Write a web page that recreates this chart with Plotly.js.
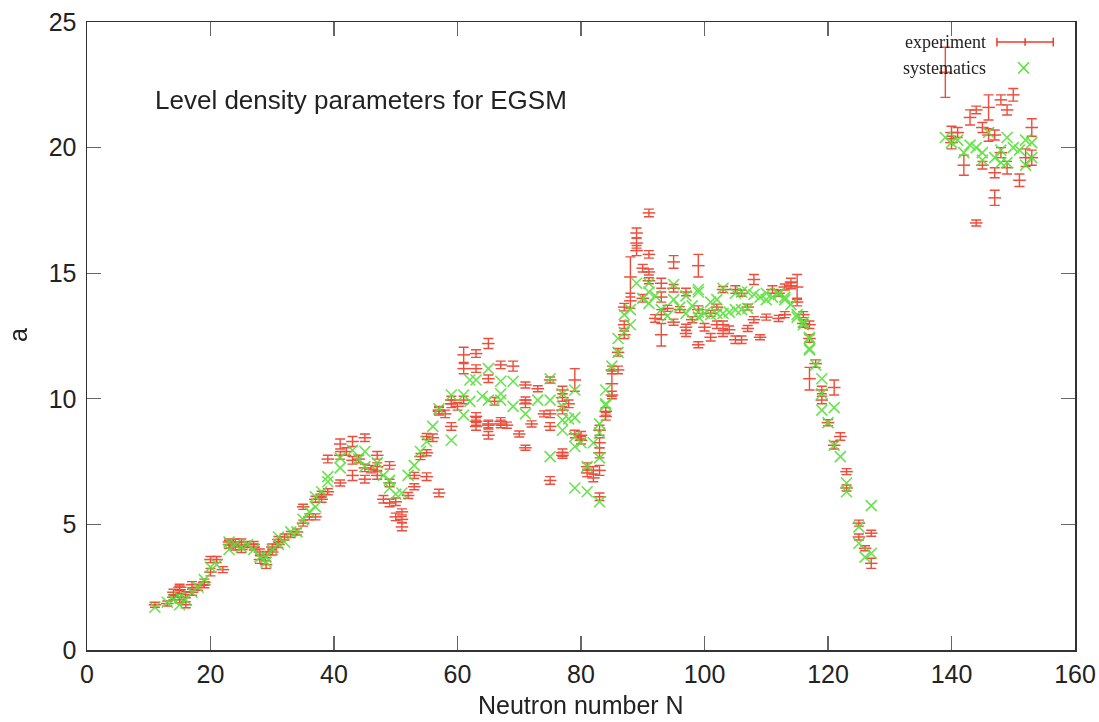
<!DOCTYPE html>
<html>
<head>
<meta charset="utf-8">
<script src="https://cdn.plot.ly/plotly-3.0.1.min.js"></script>
<style>html,body{margin:0;padding:0;background:#fff;}#chart{width:1099px;height:722px;}</style>
</head>
<body>
<div id="chart"></div>
<script>
// Experiment: neutron numbers, values of a (grouped per N), and error bars
const expN = [11,13,14,15,16,17,18,19,20,21,22,23,24,25,26,27,28,29,30,31,32,33,34,35,36,37,38,39,
  41,42,43,44,45,46,47,48,49,50,51,52,53,54,55,56,57,58,59,60,61,63,65,66,67,68,69,70,71,72,73,74,75,
  77,78,79,80,81,82,83,84,85,86,87,88,89,90,91,92,93,94,95,96,97,98,99,100,101,102,103,104,105,106,107,
  108,109,110,111,112,113,114,115,116,117,118,119,120,121,122,123,125,126,127,
  139,140,141,142,143,144,145,146,147,148,149,150,151,152,153];
const expA = [[1.8],[1.85],[2.1,2.3],[2.0,2.4,2.5],[1.8,2.2],[2.3,2.6],[2.5],[2.6,2.7],[3.1,3.6],[3.6],[3.2],
  [4.2,4.3],[4.1,4.3],[4.0,4.3],[4.2],[4.1,4.2],[3.6,3.9],[3.4,3.8],[3.9,4.1],[4.2,4.4],[4.5],[4.6],[4.7],
  [5.05,5.7],[5.3],[5.3,6.0],[6.0,6.2],[6.3,7.6],
  [6.65,7.75,8.2],[7.9],[6.95,7.55,8.3],[7.6],[6.8,7.25,8.45],[7.2],[6.95,7.3,7.75],[6.0],[5.85,6.65,7.35],
  [5.3,5.9],[4.9,5.2,5.5],[6.15],[6.5,6.95],[7.7],[6.9,7.85,8.5],[8.45],[6.25,9.5,9.55],[9.4],[8.9,9.8,9.95],
  [9.7],[9.95,11.2,11.75],[8.9,9.1,9.3,11.2,11.8],[8.55,8.95,9.0,10.8,12.2],[9.9],[9.0,9.1,11.35],[8.95],
  [11.3],[8.6],[8.05,9.8,9.95,10.55],[9.0],[10.4],[9.4],[6.75,8.9,9.4,10.75],
  [7.75,7.85,9.55,10.05,10.35],[9.8],[8.6,10.75],[8.35,8.55],[7.05,7.3],[6.85,7.15],[6.1,7.15,7.85,8.25,8.75],
  [9.3,9.5],[10.15,10.6,11.15],[11.15,11.85],[12.55,12.95,13.65],[13.9,14.85],[15.9,16.2,16.6],[14.0,15.2],
  [14.7,15.05,15.75,17.4],[13.2],[12.55,13.35,14.05,14.6],[13.6],[13.05,14.4,15.45],[13.55],[12.6,12.85,14.25],
  [13.15],[12.15,13.55,15.3],[12.85],[12.45,13.4],[12.95,13.65],[12.6,12.95,14.35],[12.75],[12.35,14.35],
  [12.35,14.2],[12.8,13.65],
  [13.15,14.75],[12.45],[13.25],[14.35],[13.2,14.2],[13.35,14.45],[14.5,14.65],[13.85,14.45],[13.0,13.35],
  [10.8,12.4,12.95],[11.4],[9.95,10.35],[9.05],[8.15,10.45],[8.5],[6.45,7.1],[4.5,5.05],[4.05],[3.45,4.65],
  [23.0],[20.2,20.6],[20.6],[19.3],[21.2],[17.0,21.5],[19.3,20.8],[20.5,21.6],[18.0,19.0,20.5],[19.8,21.9],
  [19.2,21.5],[22.1],[18.7],[19.6],[19.6,20.8]];
const expErr = [[.1],[.1],[.1,.12],[.12,.15,.12],[.12,.12],[.12,.12],[.12],[.12,.12],[.15,.12],[.12],[.12],
  [.15,.12],[.12,.12],[.12,.12],[.12],[.12,.12],[.15,.12],[.15,.12],[.12,.12],[.12,.12],[.12],[.12],[.12],
  [.12,.1],[.12],[.12,.12],[.12,.12],[.12,.15],
  [.12,.15,.2],[.15],[.2,.15,.2],[.15],[.15,.15,.15],[.15],[.15,.15,.15],[.15],[.15,.15,.15],
  [.15,.15],[.15,.12,.12],[.12],[.12,.12],[.12],[.15,.12,.12],[.15],[.15,.15,.15],[.15],[.15,.15,.15],
  [.15],[.15,.2,.3],[.15,.15,.15,.15,.15],[.15,.15,.15,.15,.2],[.15],[.15,.15,.15],[.12],
  [.2],[.12],[.1,.15,.12,.12],[.12],[.12],[.12],[.15,.15,.15,.12],
  [.12,.15,.15,.15,.15],[.15],[.15,.45],[.15,.15],[.15,.15],[.15,.15],[.15,.2,.2,.2,.2],
  [.15,.15],[.15,.5,.15],[.15,.15],[.15,.15,.15],[.3,.8],[.2,.2,.2],[.15,.15],
  [.12,.12,.15,.15],[.15],[.45,.2,.2,.2],[.12],[.12,.15,.25],[.12],[.12,.12,.15],
  [.12],[.12,.15,.45],[.15],[.15,.12],[.15,.12],[.12,.15,.12],[.15],[.15,.15],
  [.15,.12],[.12,.12],
  [.12,.2],[.1],[.12],[.15],[.12,.12],[.12,.12],[.12,.15],[.15,.5],[.15,.12],
  [.45,.15,.15],[.15],[.15,.15],[.12],[.15,.3],[.15],[.12,.12],[.12,.12],[.1],[.2,.12],
  [1.0],[.25,.25],[.2],[.4],[.3],[.12,.15],[.15,.2],[.25,.5],[.3,.2,.2],[.2,.2],
  [.25,.2],[.25],[.25],[.35],[.3,.35]];

// Systematics
const sysN = [11,13,14,15,16,17,18,19,20,21,23,24,25,26,27,28,29,30,31,32,33,34,35,36,37,38,39,
  41,43,44,45,47,48,49,50,51,52,53,54,55,56,57,59,61,62,63,64,65,67,69,71,73,75,77,78,79,80,81,82,83,84,
  85,86,87,88,89,90,91,92,93,94,95,96,97,98,99,100,101,102,103,104,105,106,107,108,109,110,111,112,113,
  114,115,116,117,118,119,120,121,122,123,125,126,127,
  139,140,141,142,143,144,145,146,147,148,149,150,151,152,153];
const sysA = [[1.7],[1.9],[2.0],[1.8,2.1],[2.0],[2.3],[2.5],[2.8],[3.3],[3.4],[4.0,4.3],[4.2],[4.1],[4.2],
  [4.0],[3.7],[3.5,3.7],[4.0],[4.2,4.5],[4.3],[4.7],[4.7],[5.2],[5.5],[5.7,6.1],[6.3],[6.7,6.9],
  [7.25,7.65],[7.95],[7.6],[7.3,7.9],[7.45],[6.95],[6.45,6.75],[6.2],[6.25],[6.95],[7.35],[7.9],[8.3],[8.9],
  [9.6],[8.35,10.15],[9.35,10.15],[9.9,10.75],[10.75],[10.1],[9.95,11.2],[9.95,10.2,10.7],[9.7,10.7],[9.4],
  [9.95],[7.7,9.95,10.8],[8.75,9.15,9.7,10.2],[9.2],[6.45,8.1,8.5,9.25,10.35],[8.25],[6.3,7.3],[8.25],
  [5.9,7.65,8.65,9.0],[9.75,9.8,10.35],
  [11.3],[11.85,12.4],[12.65,13.35],[12.95,13.55],[14.6],[14.0],[13.8,14.25,14.6],[14.1],[13.55],[13.3],
  [13.95,14.55],[13.65],[13.4,14.1],[13.7],[13.25,13.45,14.25,14.35],[13.4],[13.35,13.85],[13.4,13.95],
  [13.4,14.4],[13.45],[13.55,14.2],[13.55,14.25],[13.6,14.25],[14.15],[14.05],[13.95,14.2],[14.05],
  [14.15,14.2],[13.95,14.05],
  [13.75],[13.25,13.35],[12.95,13.05],[11.95,12.0,12.4,12.45],[11.35],[9.55,10.2,10.8],[9.05],[8.15,9.65],
  [7.7],[6.3,6.65],[4.25,4.9],[3.7],[3.85,5.75],
  [20.4],[20.2],[20.3],[19.8],[20.1],[20.0],[19.5,19.8],[20.6],[19.6],[19.4,19.9],[19.4,20.4],[20.0],
  [19.9],[19.3,20.3],[19.6,20.2]];

// Axis ticks
const xTicks = [0,20,40,60,80,100,120,140,160];
const yTicks = [0,5,10,15,20,25];

function flatten(ns, groups) {
  const xs = [], ys = [];
  ns.forEach((n, i) => groups[i].forEach(v => { xs.push(n); ys.push(v); }));
  return [xs, ys];
}
const [ex, ey] = flatten(expN, expA);
const ee = expErr.flat();
const [sx, sy] = flatten(sysN, sysA);

const RED = '#ee3a26';
const GREEN = '#58e03a';
const SANS = 'Liberation Sans, Arial, sans-serif';

const traces = [
  {
    x: ex, y: ey, type: 'scatter', mode: 'markers', name: 'experiment', showlegend: false,
    marker: {symbol: 'line-ew', size: 9, color: RED, line: {color: RED, width: 1.5}},
    error_y: {type: 'data', array: ee, visible: true, color: RED, thickness: 1.4, width: 5},
    opacity: 0.9, hoverinfo: 'x+y'
  },
  {
    x: sx, y: sy, type: 'scatter', mode: 'markers', name: 'systematics', showlegend: false,
    marker: {symbol: 'x-thin', size: 11, color: GREEN, line: {color: GREEN, width: 1.6}},
    opacity: 0.9, hoverinfo: 'x+y'
  }
];

const axisCommon = {
  showgrid: false, zeroline: false, showline: true, linecolor: '#333', linewidth: 1.5,
  mirror: 'ticks', ticks: 'inside', ticklen: 14, tickcolor: '#666', tickwidth: 1.2,
  tickfont: {family: SANS, size: 25, color: '#222'},
  tickmode: 'array'
};

const serif = {family: 'Liberation Serif, Times New Roman, serif', size: 18, color: '#222'};

const layout = {
  width: 1099, height: 722,
  margin: {l: 87, r: 24, t: 22, b: 72, pad: 0},
  paper_bgcolor: '#fff', plot_bgcolor: '#fff',
  xaxis: Object.assign({}, axisCommon, {range: [0, 160], tickvals: xTicks, ticktext: xTicks.map(String), ticklabelstandoff: 1}),
  yaxis: Object.assign({}, axisCommon, {range: [0, 25], tickvals: yTicks, ticktext: yTicks.map(String), ticklabelstandoff: 4}),
  annotations: [
    {text: 'Level density parameters for EGSM', xref: 'paper', yref: 'paper', x: 0.0668, y: 0.876,
     xanchor: 'left', yanchor: 'middle', showarrow: false,
     font: {family: SANS, size: 26, color: '#222'}},
    {text: 'Neutron number N', xref: 'paper', yref: 'paper', x: 0.5, y: -0.0875,
     xanchor: 'center', yanchor: 'middle', showarrow: false,
     font: {family: SANS, size: 25, color: '#222'}},
    {text: 'a', xref: 'paper', yref: 'paper', x: -0.0698, y: 0.5016, textangle: -90,
     xanchor: 'center', yanchor: 'middle', showarrow: false,
     font: {family: SANS, size: 25, color: '#222'}},
    {text: 'experiment', xref: 'paper', yref: 'paper', x: 0.912, y: 0.968,
     xanchor: 'right', yanchor: 'middle', showarrow: false, font: serif},
    {text: 'systematics', xref: 'paper', yref: 'paper', x: 0.912, y: 0.927,
     xanchor: 'right', yanchor: 'middle', showarrow: false, font: serif}
  ],
  shapes: [
    // legend sample: experiment (error bar style)
    {type: 'line', xref: 'paper', yref: 'paper', x0: 0.921, x1: 0.978, y0: 0.968, y1: 0.968, line: {color: RED, width: 1.5}},
    {type: 'line', xref: 'paper', yref: 'paper', x0: 0.921, x1: 0.921, y0: 0.961, y1: 0.975, line: {color: RED, width: 1.5}},
    {type: 'line', xref: 'paper', yref: 'paper', x0: 0.978, x1: 0.978, y0: 0.961, y1: 0.975, line: {color: RED, width: 1.5}},
    {type: 'line', xref: 'paper', yref: 'paper', x0: 0.9495, x1: 0.9495, y0: 0.962, y1: 0.974, line: {color: RED, width: 1.5}},
    // legend sample: systematics (x)
    {type: 'line', xref: 'paper', yref: 'paper', x0: 0.9425, x1: 0.9535, y0: 0.918, y1: 0.936, line: {color: GREEN, width: 1.6}},
    {type: 'line', xref: 'paper', yref: 'paper', x0: 0.9425, x1: 0.9535, y0: 0.936, y1: 0.918, line: {color: GREEN, width: 1.6}}
  ]
};

Plotly.newPlot('chart', traces, layout, {displayModeBar: false, staticPlot: true});
</script>
</body>
</html>
